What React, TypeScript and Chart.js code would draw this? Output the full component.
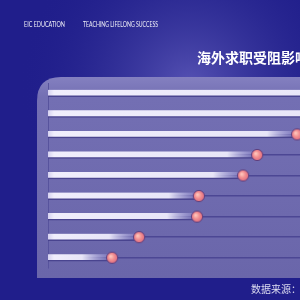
import React, { useEffect, useRef } from "react";
import { Chart, registerables } from "chart.js";

Chart.register(...registerables);

const categories = ["因素一", "因素二", "因素三", "因素四", "因素五", "因素六", "因素七", "因素八", "因素九"];
const values = [88, 80, 69.2, 58.1, 54.2, 41.9, 41.4, 25.3, 17.8];
const headerLeft = "EIC EDUCATION";
const headerRight = "TEACHING LIFELONG SUCCESS";
const titleText = "海外求职受阻影响因素";
const sourceText = "数据来源：";

function makeDot(): HTMLCanvasElement {
  const c = document.createElement("canvas");
  c.width = 14;
  c.height = 14;
  const g = c.getContext("2d")!;
  const grad = g.createRadialGradient(5.5, 5.5, 0.5, 7, 7, 6.5);
  grad.addColorStop(0, "#ffc6bc");
  grad.addColorStop(0.45, "#f28e90");
  grad.addColorStop(1, "#d8627c");
  g.beginPath();
  g.arc(7, 7, 5.6, 0, Math.PI * 2);
  g.fillStyle = grad;
  g.fill();
  g.lineWidth = 1;
  g.strokeStyle = "#5e407e";
  g.stroke();
  return c;
}

const decor = {
  id: "decor",
  beforeDraw(chart: any) {
    const ctx = chart.ctx as CanvasRenderingContext2D;
    const W = chart.width;
    const H = chart.height;
    ctx.save();
    ctx.fillStyle = "#201e8b";
    ctx.fillRect(0, 0, W, H);
    const rg = ctx.createRadialGradient(190, 85, 5, 190, 85, 170);
    rg.addColorStop(0, "rgba(100,96,190,0.75)");
    rg.addColorStop(0.5, "rgba(62,60,160,0.45)");
    rg.addColorStop(1, "rgba(32,30,139,0)");
    ctx.fillStyle = rg;
    ctx.fillRect(0, 0, W, 278);
    // panel
    const x0 = 37, y0 = 77, y1 = 278, r = 24;
    const pg = ctx.createLinearGradient(0, y0, 0, y1);
    pg.addColorStop(0, "#8480c0");
    pg.addColorStop(0.1, "#736fb3");
    pg.addColorStop(1, "#6a66aa");
    ctx.fillStyle = pg;
    ctx.beginPath();
    ctx.moveTo(x0, y1);
    ctx.lineTo(x0, y0 + r);
    ctx.quadraticCurveTo(x0, y0, x0 + r, y0);
    ctx.lineTo(W, y0);
    ctx.lineTo(W, y1);
    ctx.closePath();
    ctx.fill();
    ctx.restore();
  },
  afterDraw(chart: any) {
    const ctx = chart.ctx as CanvasRenderingContext2D;
    ctx.save();
    ctx.fillStyle = "rgba(255,255,255,0.92)";
    ctx.textBaseline = "middle";
    ctx.font = "7px Lato, 'Open Sans', sans-serif";
    ctx.fillText(headerLeft, 24, 24.5, 41);
    ctx.fillText(headerRight, 83, 24.5, 75);
    ctx.fillStyle = "#ffffff";
    ctx.font = "bold 14px 'Noto Sans CJK SC', sans-serif";
    ctx.fillText(titleText, 197, 57.5);
    ctx.fillStyle = "#dcdcf0";
    ctx.font = "10px 'Noto Sans CJK SC', sans-serif";
    ctx.fillText(sourceText, 251, 289.5);
    ctx.restore();
  },
};

export default function App() {
  const ref = useRef<HTMLCanvasElement | null>(null);
  useEffect(() => {
    if (!ref.current) return;
    const dot = makeDot();
    const chart = new Chart(ref.current, {
      type: "bar",
      data: {
        labels: categories,
        datasets: [
          {
            type: "line",
            data: values,
            indexAxis: "y",
            showLine: false,
            pointStyle: dot as any,
            pointRadius: 6,
            order: 0,
          } as any,
          {
            type: "bar",
            data: values,
            order: 1,
            barThickness: 7,
            borderSkipped: false,
            borderWidth: { top: 0, left: 0, right: 0, bottom: 1.5 } as any,
            borderColor: "rgba(70,64,140,0.9)",
            backgroundColor: (c: any) => {
              const ch = c.chart;
              if (!ch.chartArea) return "#eceafa";
              const xs = ch.scales.x;
              const v = c.parsed ? c.parsed.x : values[c.dataIndex];
              const a = xs.getPixelForValue(0);
              const b = xs.getPixelForValue(v);
              const g = ch.ctx.createLinearGradient(a, 0, b, 0);
              const len = Math.max(1, b - a);
              g.addColorStop(0, "rgba(214,210,240,1)");
              g.addColorStop(Math.min(0.1, 6 / len), "rgba(240,238,252,1)");
              g.addColorStop(Math.max(0.1, 1 - 30 / len), "rgba(236,234,250,0.97)");
              g.addColorStop(1, "rgba(160,155,220,0.25)");
              return g;
            },
          },
        ],
      },
      options: {
        indexAxis: "y",
        animation: false,
        responsive: false,
        devicePixelRatio: 1,
        layout: { padding: { left: 48, top: 83, bottom: 32, right: 12 } },
        plugins: { legend: { display: false }, tooltip: { enabled: false }, title: { display: false } },
        scales: {
          x: { display: false, min: 0, max: 100 },
          y: {
            ticks: { display: false },
            grid: { offset: false, color: "#4c4794", lineWidth: 1.5, drawTicks: false },
            border: { display: true, color: "#57539d", width: 1 },
          },
        },
      },
      plugins: [decor],
    } as any);
    return () => chart.destroy();
  }, []);
  return (
    <div style={{ position: "fixed", left: 0, top: 0, width: 300, height: 300, overflow: "hidden" }}>
      <canvas ref={ref} width={420} height={300} style={{ display: "block" }} />
    </div>
  );
}
